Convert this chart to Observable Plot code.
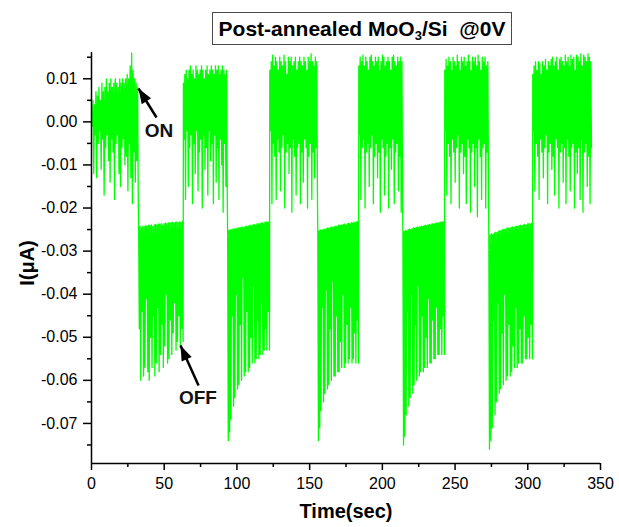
<!DOCTYPE html>
<html>
<head>
<meta charset="utf-8">
<script src="https://cdn.jsdelivr.net/npm/d3@7"></script>
<script src="https://cdn.jsdelivr.net/npm/@observablehq/plot@0.6"></script>
<style>
  html, body { margin: 0; padding: 0; background: #fff; }
  #wrap { width: 619px; height: 527px; position: relative; overflow: hidden; font-family: "Liberation Sans", Arial, sans-serif; }
  #titlebar { height: 50px; position: relative; }
  #title { position: absolute; left: 212px; top: 12px; width: 298px; height: 31px; border: 1.5px solid #4a4a4a;
           box-sizing: content-box; background: #fff; font-weight: bold; font-size: 21px; line-height: 31px;
           text-align: center; white-space: pre; color: #000; }
  #title sub { font-size: 13px; vertical-align: -4px; line-height: 0; }
</style>
</head>
<body>
<div id="wrap">
  <div id="titlebar"><div id="title">Post-annealed MoO<sub>3</sub>/Si  @0V</div></div>
  <div id="chart"></div>
</div>
<script>
// Time boundaries (sec) of each illuminated (ON) / dark (OFF) segment
const blockStart = [0, 32.4, 63.2, 93.6, 122.6, 155.6, 183.8, 214.1, 242.9, 273.2, 303.4];
const blockEnd   = [32.2, 63.0, 93.4, 122.4, 155.4, 183.6, 213.9, 242.7, 273.0, 303.2, 343.8];

// Current samples per segment, in units of 1e-3 µA: upper samples and lower samples (alternating in time)
const blockHigh = [
  [2, 5, 4, 7, 6, 8, 5, 9, 7, 8, 10, 7, 9, 10, 8, 9, 10, 9, 8, 10, 9, 10, 9, 10, 11, 10, 13, 16, 12, 10, 9, 8],
  [-24.4, -24.3, -24.5, -24.2, -24.3, -24.1, -24.2, -24.0, -24.1, -23.9, -24.3, -23.9, -23.8, -23.9, -23.7, -23.8, -23.6, -24.0, -23.6, -23.5, -23.6, -23.4, -23.5, -23.4, -23.3, -23.5, -23.3, -23.2, -23.4, -23.2, -23.3, -23.1],
  [9, 11, 12, 10, 12, 13, 11, 12, 10, 13, 12, 11, 12, 13, 12, 10, 12, 13, 11, 12, 13, 12, 11, 13, 12, 13, 11, 12, 13, 12, 11, 12],
  [-25.4, -25.2, -25.0, -25.1, -24.9, -24.8, -24.9, -24.7, -24.6, -24.7, -24.5, -24.4, -24.6, -24.3, -24.2, -24.4, -24.1, -24.0, -24.2, -23.9, -23.8, -24.0, -23.7, -23.6, -23.8, -23.5, -23.4, -23.6, -23.3, -23.2, -23.4, -23.2],
  [12, 14, 15.5, 13, 15, 14, 12, 15, 14, 13, 15.5, 14, 11, 15, 14, 15, 13, 14, 15, 12, 14, 15, 14, 13, 15, 14, 12, 15, 14, 15.8, 14, 13, 15, 14],
  [-25.5, -25.3, -25.1, -25.2, -25.0, -24.9, -25.0, -24.7, -24.6, -24.8, -24.5, -24.4, -24.6, -24.3, -24.2, -24.3, -24.0, -24.1, -23.9, -24.0, -23.8, -23.7, -23.9, -23.6, -23.5, -23.7, -23.4, -23.5, -23.3, -23.4, -23.2, -23.1],
  [13, 15, 14, 15.5, 13, 15, 14, 12, 15, 15.5, 14, 13, 15, 14, 15, 12, 14, 15.5, 15, 13, 14, 15, 14, 12, 15, 15.5, 14, 13, 15, 14, 15, 14],
  [-25.7, -25.4, -25.2, -25.3, -25.0, -24.9, -25.0, -24.8, -24.6, -24.7, -24.5, -24.4, -24.5, -24.3, -24.2, -24.3, -24.1, -24.0, -24.1, -23.9, -23.8, -23.9, -23.7, -23.6, -23.7, -23.5, -23.4, -23.5, -23.3, -23.2, -23.3, -23.1],
  [12, 14.5, 13, 15, 14, 12, 15, 14, 13, 15.5, 14, 12, 15, 14, 15, 13, 14, 15.5, 14, 12, 15, 14, 15, 13, 15.5, 14, 12, 15, 14, 15, 13, 14],
  [-26.7, -26.3, -26.0, -26.1, -25.8, -25.6, -25.7, -25.4, -25.2, -25.3, -25.0, -24.9, -25.0, -24.7, -24.6, -24.7, -24.5, -24.4, -24.5, -24.3, -24.2, -24.3, -24.1, -24.0, -24.1, -23.9, -23.8, -23.9, -23.7, -23.6, -23.7, -23.5],
  [11, 13, 14, 12, 14, 13.5, 11, 14, 13, 14.5, 12, 14, 13, 14.5, 15, 13, 14, 15, 12, 14.5, 15, 14, 13, 15.5, 14, 15, 13, 15.5, 14.5, 15, 12, 15.5, 15, 14, 15.8, 13, 15.5, 15, 14, 15.8, 15, 14]
];
const blockLow = [
  [-1, -12, -3, -13, -5, -2, -11, -4, -17, -6, -3, -9, -14, -4, -7, -18, -5, -3, -12, -15, -6, -4, -10, -8, -16, -5, -13, -19, -7, -14, -9, -20],
  [-48, -60, -44, -59, -57, -41, -58, -60, -50, -57, -45, -59, -56, -43, -58, -54, -47, -57, -52, -40, -56, -55, -46, -54, -49, -42, -53, -51, -45, -52, -48, -51],
  [-4, -18, -2, -15, -6, -3, -19, -5, -12, -2, -16, -7, -4, -20, -3, -11, -6, -17, -2, -9, -5, -19, -3, -14, -6, -18, -4, -10, -21, -5, -15, -19],
  [-74, -72, -69, -45, -66, -64, -40, -62, -61, -47, -60, -36, -59, -58, -44, -58, -57, -50, -56, -38, -56, -55, -46, -55, -54, -42, -54, -53, -48, -53, -44, -53],
  [-2, -19, -5, -8, -18, -4, -7, -16, -6, -3, -20, -7, -5, -12, -6, -21, -4, -8, -17, -6, -5, -19, -7, -14, -4, -6, -20, -8, -5, -18, -7, -13, -6, -19],
  [-74, -71, -67, -43, -65, -63, -39, -62, -61, -48, -60, -37, -59, -59, -45, -58, -58, -51, -57, -40, -57, -56, -47, -56, -55, -43, -56, -55, -49, -56, -46, -56],
  [-3, -18, -6, -4, -20, -7, -5, -15, -6, -3, -19, -8, -5, -13, -7, -21, -4, -6, -17, -8, -5, -20, -6, -11, -4, -19, -7, -5, -16, -8, -21, -18],
  [-75, -73, -68, -44, -66, -64, -40, -63, -61, -47, -60, -38, -59, -58, -45, -58, -57, -50, -57, -41, -56, -56, -46, -55, -55, -43, -54, -54, -48, -54, -45, -54],
  [-2, -17, -5, -8, -19, -4, -7, -14, -6, -3, -20, -7, -5, -12, -8, -19, -4, -6, -21, -7, -5, -15, -6, -22, -4, -8, -18, -6, -5, -20, -7, -16],
  [-76, -74, -71, -46, -68, -65, -42, -63, -62, -49, -61, -40, -60, -59, -47, -59, -58, -52, -57, -43, -57, -56, -48, -56, -56, -45, -55, -55, -50, -55, -47, -55],
  [-2, -16, -5, -8, -18, -4, -7, -13, -6, -3, -19, -7, -5, -11, -8, -17, -4, -6, -20, -7, -5, -14, -6, -19, -4, -8, -16, -6, -5, -20, -7, -12, -6, -18, -4, -21, -7, -5, -15, -8, -19, -6]
];

// Axes
const xDomain = [0, 350];
const yDomain = [-0.0793, 0.0161];
const xTicks = [0, 50, 100, 150, 200, 250, 300, 350];
const xMinor = [25, 75, 125, 175, 225, 275, 325];
const yTicks = [0.01, 0, -0.01, -0.02, -0.03, -0.04, -0.05, -0.06, -0.07];
const yMinor = [0.015, 0.005, -0.005, -0.015, -0.025, -0.035, -0.045, -0.055, -0.065, -0.075];

// Annotations: arrows (tail -> tip) and labels
const arrowNotes = [
  {x1: 44.7, y1: 0.00101, x2: 32.3, y2: 0.00774},
  {x1: 73.6, y1: -0.0612, x2: 61.2, y2: -0.05191}
];
const textNotes = [
  {x: 46.4, y: -0.0020, label: "ON"},
  {x: 73.2, y: -0.0641, label: "OFF"}
];

// Build samples
const samples = [];
blockStart.forEach((s, i) => {
  const e = blockEnd[i], hi = blockHigh[i], lo = blockLow[i];
  const n = hi.length, m = 2 * n - 1;
  for (let k = 0; k < n; k++) {
    samples.push({t: s + (e - s) * (2 * k) / m, v: hi[k] / 1000});
    samples.push({t: s + (e - s) * (2 * k + 1) / m, v: lo[k] / 1000});
  }
});

const W = 619, H = 477, mL = 91, mR = 19, mT = 2, mB = 64;
const kx = (W - mL - mR) / (xDomain[1] - xDomain[0]);
const ky = (H - mT - mB) / (yDomain[1] - yDomain[0]);

function headSymbol(a) {
  const dx = (a.x2 - a.x1) * kx, dy = -(a.y2 - a.y1) * ky;
  const len = Math.hypot(dx, dy), c = dx / len, s = dy / len;
  const L = 15, Wd = 5.5;
  return {
    draw(ctx) {
      ctx.moveTo(0, 0);
      ctx.lineTo(-L * c - Wd * s, -L * s + Wd * c);
      ctx.lineTo(-L * c + Wd * s, -L * s - Wd * c);
      ctx.closePath();
    }
  };
}

const chart = Plot.plot({
  width: W, height: H,
  marginLeft: mL, marginRight: mR, marginTop: mT, marginBottom: mB,
  x: {domain: xDomain, label: null},
  y: {domain: yDomain, label: null},
  style: {fontFamily: "'Liberation Sans', Arial, sans-serif", fontSize: "16px", color: "#000", background: "#fff", overflow: "visible"},
  marks: [
    Plot.line(samples, {x: "t", y: "v", stroke: "#00ff00", strokeWidth: 1.3}),
    Plot.ruleX([xDomain[0]], {stroke: "#000", strokeWidth: 1.5}),
    Plot.ruleY([yDomain[0]], {stroke: "#000", strokeWidth: 1.5}),
    Plot.axisX({ticks: xTicks, tickSize: 7, tickPadding: 7, tickFormat: d => String(d), label: null, fontSize: 16, strokeWidth: 1.5}),
    Plot.axisX({ticks: xMinor, tickSize: 4, fill: "none", label: null, strokeWidth: 1.5}),
    Plot.axisY({ticks: yTicks, tickSize: 8, tickPadding: 6, tickFormat: d => d.toFixed(2), label: null, fontSize: 16, strokeWidth: 1.5}),
    Plot.axisY({ticks: yMinor, tickSize: 4, fill: "none", label: null, strokeWidth: 1.5}),
    Plot.text(["Time(sec)"], {frameAnchor: "bottom", lineAnchor: "middle", dy: 48, fontSize: 20, fontWeight: "bold", fill: "#000"}),
    Plot.text(["I(\u03bcA)"], {frameAnchor: "left", lineAnchor: "middle", textAnchor: "middle", rotate: -90, dx: -64, dy: 5, fontSize: 20, fontWeight: "bold", fill: "#000"}),
    Plot.link(arrowNotes, {x1: "x1", y1: "y1", x2: "x2", y2: "y2", stroke: "#000", strokeWidth: 2.5}),
    ...arrowNotes.map(a => Plot.dot([a], {x: "x2", y: "y2", r: 5, symbol: headSymbol(a), fill: "#000", stroke: "none"})),
    Plot.text(textNotes, {x: "x", y: "y", text: "label", fontSize: 19, fontWeight: "bold", fill: "#111"})
  ]
});
document.getElementById("chart").appendChild(chart);
</script>
</body>
</html>
